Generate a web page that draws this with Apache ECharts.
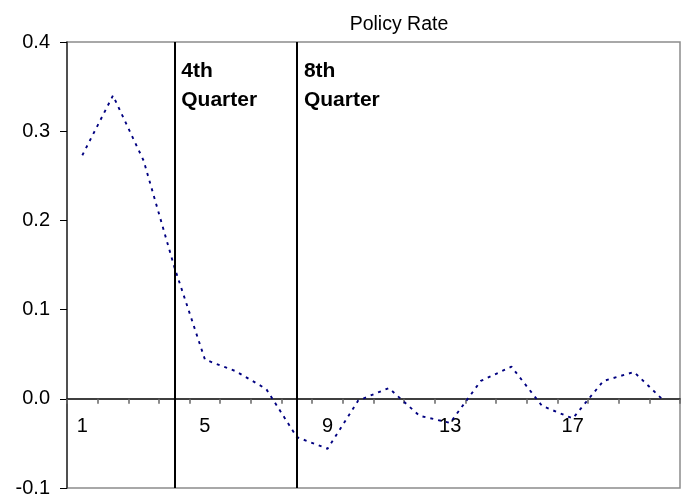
<!DOCTYPE html>
<html>
<head>
<meta charset="utf-8">
<script src="https://cdn.jsdelivr.net/npm/echarts@6/dist/echarts.min.js"></script>
<style>html,body{margin:0;padding:0;background:#fff}#c{width:690px;height:496px}</style>
</head>
<body>
<div id="c"></div>
<script>
const categories = ['1','2','3','4','5','6','7','8','9','10','11','12','13','14','15','16','17','18','19','20'];
const policyRate = [0.273, 0.340, 0.267, 0.148, 0.044, 0.031, 0.011, -0.043, -0.056, -0.002, 0.012, -0.019, -0.027, 0.020, 0.036, -0.008, -0.022, 0.020, 0.030, -0.003];
const yTicks = { min: -0.1, max: 0.4, interval: 0.1 };
const markers = [{ at: '4', label: '4th\nQuarter' }, { at: '8', label: '8th\nQuarter' }];
const title = 'Policy Rate';

const chart = echarts.init(document.getElementById('c'), null, { renderer: 'canvas' });
const font = 'Arial, "Liberation Sans", sans-serif';
const xAxisBase = {
  type: 'category', data: categories, boundaryGap: true, position: 'bottom',
  axisLine: { onZero: false, lineStyle: { color: '#000', width: 1.5 } },
  axisTick: { show: true, interval: 0, alignWithLabel: false, length: 5, lineStyle: { color: '#666', width: 1.5 } },
  axisLabel: { interval: 3, margin: 18, fontFamily: font, fontSize: 20, color: '#000' },
  splitLine: { show: false }
};
chart.setOption({
  animation: false,
  title: { text: title, left: 394, top: 10, textAlign: 'center',
    textStyle: { fontFamily: font, fontSize: 19.5, fontWeight: 'normal', color: '#000' } },
  grid: { left: 67, right: 10, top: 42, bottom: 8, show: true, borderColor: '#8c8c8c', borderWidth: 1.5,
    backgroundColor: '#fff', containLabel: false, outerBoundsMode: 'none' },
  xAxis: xAxisBase,
  yAxis: {
    type: 'value', min: yTicks.min, max: yTicks.max, interval: yTicks.interval,
    axisLine: { show: true, lineStyle: { color: '#333', width: 1.5 } },
    axisTick: { show: true, length: 7, lineStyle: { color: '#000' } },
    axisLabel: { margin: 17, fontFamily: font, fontSize: 20, color: '#000', formatter: v => v.toFixed(1) },
    splitLine: { show: false }
  },
  series: [{
    type: 'line', data: policyRate, showSymbol: false, symbol: 'none',
    lineStyle: { color: '#000080', width: 1.9, type: [3, 5] },
    markLine: {
      symbol: 'none', silent: true,
      lineStyle: { color: '#000', width: 2, type: 'solid' },
      label: { show: false },
      data: markers.map(m => ({ xAxis: m.at }))
    }
  }]
});

const yZero = chart.convertToPixel({ yAxisIndex: 0 }, 0);
const yBottom = chart.convertToPixel({ yAxisIndex: 0 }, yTicks.min);
const yTop = chart.convertToPixel({ yAxisIndex: 0 }, yTicks.max);
const texts = markers.map(m => {
  const x = chart.convertToPixel({ xAxisIndex: 0 }, m.at);
  return { type: 'text', left: x + 7, top: yTop + 15,
    style: { text: m.label, fontFamily: font, fontSize: 21, fontWeight: 'bold', fill: '#000', lineHeight: 29 } };
});
chart.setOption({
  xAxis: Object.assign({}, xAxisBase, { offset: -(yBottom - yZero) }),
  graphic: texts
});
</script>
</body>
</html>
